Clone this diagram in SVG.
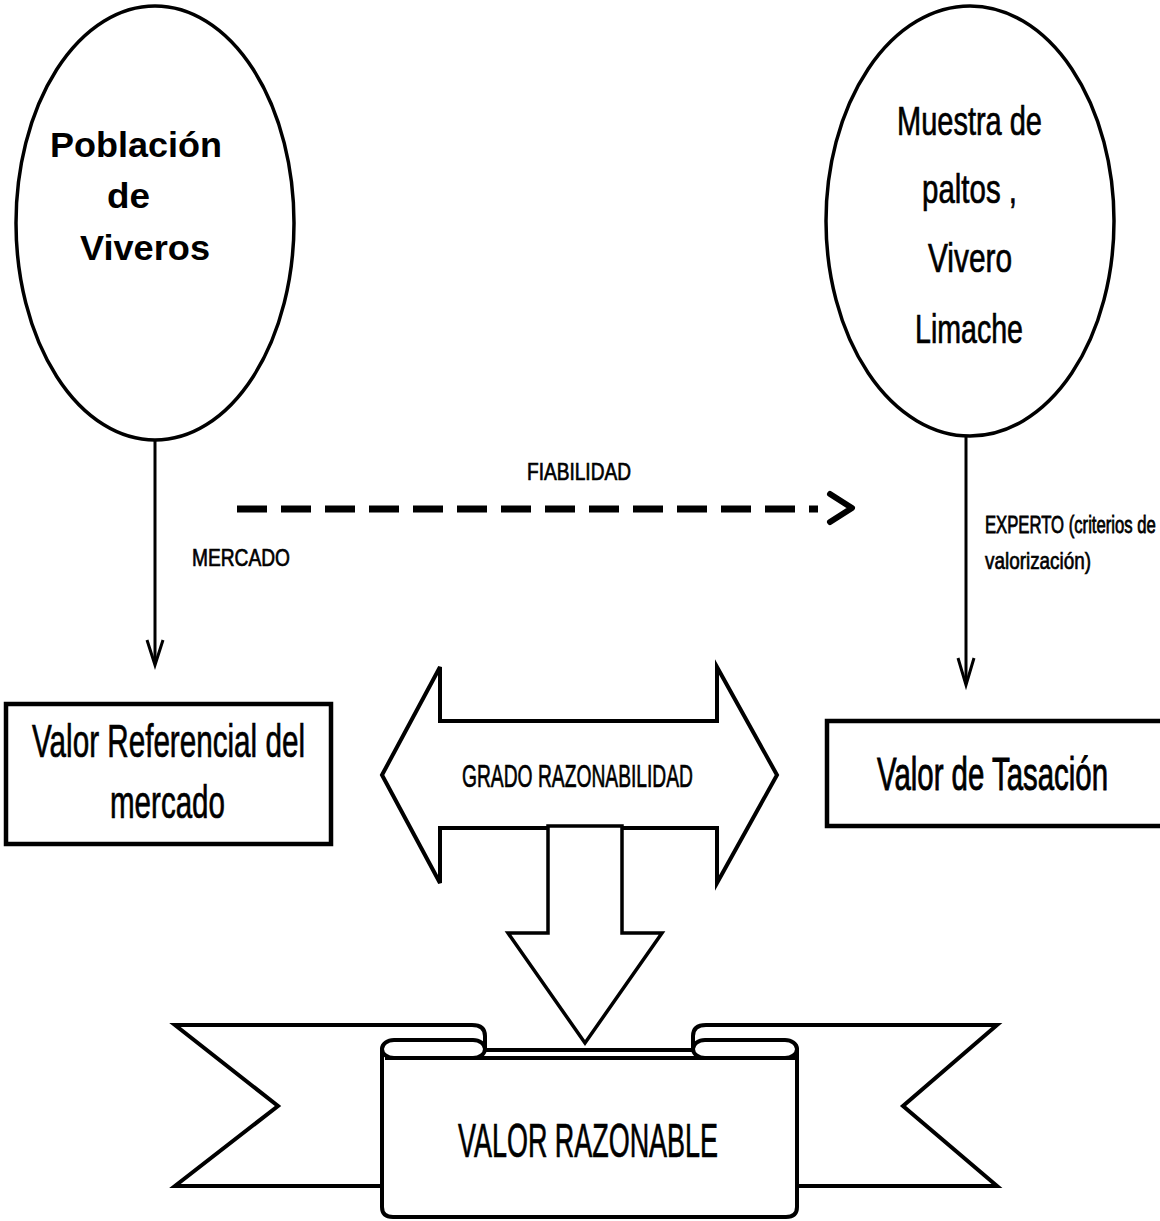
<svg xmlns="http://www.w3.org/2000/svg" width="1160" height="1221" viewBox="0 0 1160 1221">
<style>
.ol{fill:#fff;stroke:#000;stroke-linejoin:miter}
.t{font-family:"Liberation Sans",Arial,sans-serif;fill:#000}
.w{stroke:#000;stroke-width:0.7}
.b{font-weight:bold}
.ln{stroke:#000;stroke-width:3;fill:none}
</style>
<rect width="1160" height="1221" fill="#fff"/>
<g id="connectors">
<line class="ln" x1="155" y1="441" x2="155" y2="664"/>
<polyline class="ln" points="147,640 155,665 163,640"/>
<line class="ln" x1="966" y1="437" x2="966" y2="684"/>
<polyline class="ln" points="958,658 966,685 974,658"/>
<line x1="237" y1="509" x2="818" y2="509" stroke="#000" stroke-width="7" stroke-dasharray="30 14"/>
<polyline points="830,494 852,508 830,522" fill="none" stroke="#000" stroke-width="6" stroke-linecap="round" stroke-linejoin="round"/>
<text class="t w" x="579" y="480" font-size="24" text-anchor="middle" textLength="104" lengthAdjust="spacingAndGlyphs">FIABILIDAD</text>
<text class="t w" x="192" y="566" font-size="24" textLength="98" lengthAdjust="spacingAndGlyphs">MERCADO</text>
<text class="t" transform="translate(985,533) scale(0.7,1)" font-size="24" stroke="#000" stroke-width="0.8" textLength="244" lengthAdjust="spacingAndGlyphs">EXPERTO (criterios de</text>
<text class="t w" x="985" y="569" font-size="24" textLength="106" lengthAdjust="spacingAndGlyphs">valorización)</text>
</g>
<g id="poblacion">
<ellipse class="ol" cx="155" cy="223" rx="139" ry="217" stroke-width="3.5"/>
<text class="t b" x="50" y="157" font-size="35" textLength="172" lengthAdjust="spacingAndGlyphs">Población</text>
<text class="t b" x="107" y="208" font-size="35" textLength="43" lengthAdjust="spacingAndGlyphs">de</text>
<text class="t b" x="80" y="260" font-size="35" textLength="130" lengthAdjust="spacingAndGlyphs">Viveros</text>
</g>
<g id="muestra">
<ellipse class="ol" cx="970" cy="221" rx="144" ry="215" stroke-width="3.5"/>
<text class="t w" x="897" y="135" font-size="40" textLength="145" lengthAdjust="spacingAndGlyphs">Muestra de</text>
<text class="t w" x="922" y="203" font-size="40" textLength="95" lengthAdjust="spacingAndGlyphs">paltos ,</text>
<text class="t w" x="928" y="272" font-size="40" textLength="84" lengthAdjust="spacingAndGlyphs">Vivero</text>
<text class="t w" x="915" y="343" font-size="40" textLength="108" lengthAdjust="spacingAndGlyphs">Limache</text>
</g>
<g id="valor-referencial">
<rect class="ol" x="6" y="704" width="325" height="140" stroke-width="4.5"/>
<text class="t w" x="32" y="757" font-size="46" textLength="273" lengthAdjust="spacingAndGlyphs">Valor  Referencial del</text>
<text class="t w" x="110" y="818" font-size="46" textLength="115" lengthAdjust="spacingAndGlyphs">mercado</text>
</g>
<g id="valor-tasacion">
<rect class="ol" x="827" y="721" width="345" height="105" stroke-width="4.5"/>
<text class="t" transform="translate(877,790) scale(0.6,1)" font-size="46" stroke="#000" stroke-width="0.9" textLength="385" lengthAdjust="spacingAndGlyphs">Valor  de Tasación</text>
</g>
<g id="grado-razonabilidad">
<polygon class="ol" stroke-width="4" points="382,775 440,667 440,721 717,721 717,667 777,775 717,883 717,828 440,828 440,883"/>
<text class="t w" x="462" y="787" font-size="32" textLength="231" lengthAdjust="spacingAndGlyphs">GRADO RAZONABILIDAD</text>
</g>
<g id="flecha-abajo">
<polygon class="ol" stroke-width="3.5" points="548,826 622,826 622,933 662,933 585,1043 508,933 548,933"/>
</g>
<g id="valor-razonable">
<path class="ol" stroke-width="4" d="M175,1025 L472,1025 Q485,1025 485,1036 L485,1060 L382,1060 L382,1186 L175,1186 L278,1106 Z"/>
<path class="ol" stroke-width="4" d="M997,1025 L706,1025 Q693,1025 693,1036 L693,1060 L797,1060 L797,1186 L997,1186 L903,1106 Z"/>
<path class="ol" stroke-width="4" d="M382,1050 L382,1207 Q382,1217 393,1217 L786,1217 Q797,1217 797,1207 L797,1050 Z"/>
<rect class="ol" stroke-width="4" x="382" y="1040" width="103" height="18" rx="12" ry="9"/>
<rect class="ol" stroke-width="4" x="693" y="1040" width="104" height="18" rx="12" ry="9"/>
<line x1="385" y1="1058" x2="795" y2="1058" stroke="#000" stroke-width="4"/>
<text class="t w" x="458" y="1157" font-size="48" textLength="260" lengthAdjust="spacingAndGlyphs">VALOR  RAZONABLE</text>
</g>
</svg>
